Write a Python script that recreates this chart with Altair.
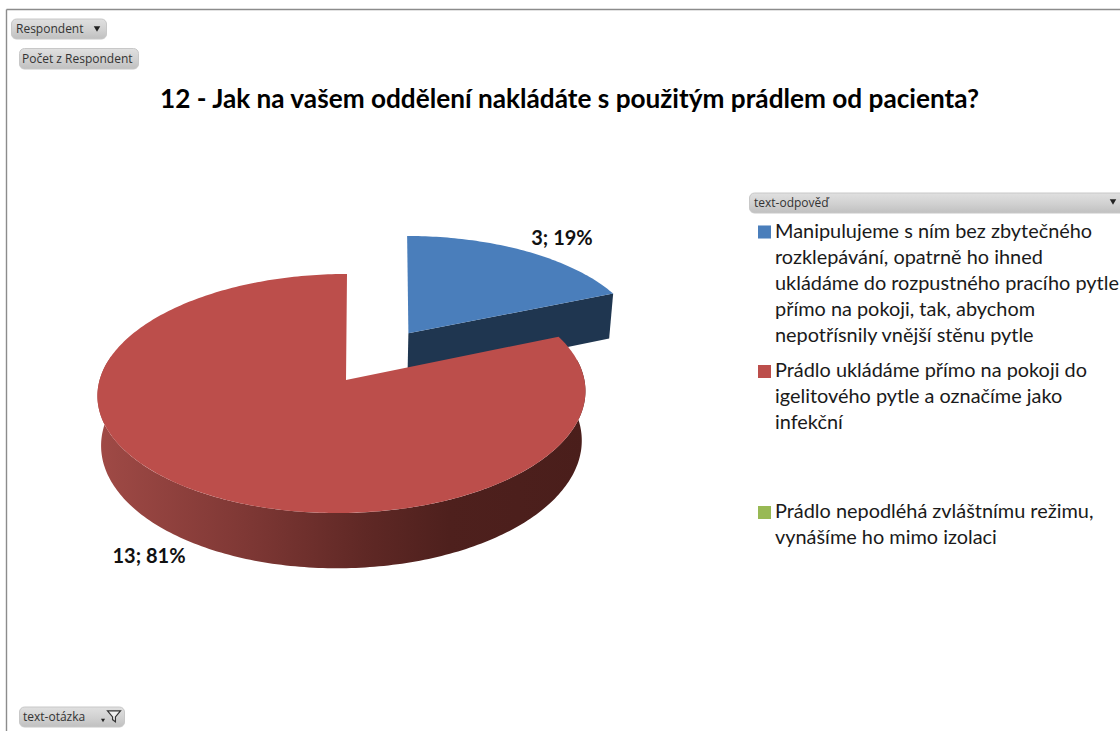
import math
import altair as alt

# Survey answers
counts = [3, 13]
category_lines = [
    ["Manipulujeme s ním bez zbytečného", "rozklepávání, opatrně ho ihned",
     "ukládáme do rozpustného pracího pytle", "přímo na pokoji, tak, abychom",
     "nepotřísnily vnější stěnu pytle"],
    ["Prádlo ukládáme přímo na pokoji do", "igelitového pytle a označíme jako", "infekční"],
    ["Prádlo nepodléhá zvláštnímu režimu,", "vynášíme ho mimo izolaci"],
]
title_text = "12 - Jak na vašem oddělení nakládáte s použitým prádlem od pacienta?"

BLUE, RED, GREEN = "#4a7ebb", "#bc4e4b", "#98b954"
FONT = "Lato"
W, H = 1120, 731

# Pie geometry: a circle of radius 1 on the ground plane seen in perspective
X0, Y0 = 342, 380
RX, RY, PERSP = 242.4, 118.0, 0.113
SHEAR = 5.0
DEPTH, BOTTOM_SHRINK = 49.0, 0.985
EXPLODE = 0.5
RED_APEX_NUDGE = 4.0


def project(gx, gz, drop=False):
    s = 1 / (1 + PERSP * gz)
    x = RX * s * gx
    y = Y0 - RY * s * gz
    if drop:
        return [X0 + SHEAR * gz + BOTTOM_SHRINK * x, y + DEPTH * s]
    return [X0 + SHEAR * gz + x, y]


def rim(a0, a1, off=(0.0, 0.0), drop=False, step=1.0):
    n = max(2, int(abs(a1 - a0) / step))
    pts = []
    for i in range(n + 1):
        a = math.radians(a0 + (a1 - a0) * i / n)
        pts.append(project(off[0] + math.sin(a), off[1] + math.cos(a), drop))
    return pts


def polygon(pts):
    return {"type": "Feature", "properties": {},
            "geometry": {"type": "Polygon", "coordinates": [pts + [pts[0]]]}}


total = sum(counts)
blue_end = 360 * counts[0] / total
mid = math.radians(blue_end / 2)
off = (EXPLODE * math.sin(mid), EXPLODE * math.cos(mid))

blue_top = [project(*off)] + rim(0, blue_end, off)
edge = math.radians(blue_end)
blue_tip = (off[0] + math.sin(edge), off[1] + math.cos(edge))
blue_cut = [project(*off), project(*blue_tip), project(*blue_tip, True), project(*off, True)]
red_apex = project(0, 0)
red_apex[0] += RED_APEX_NUDGE
red_top = [red_apex] + rim(blue_end, 360)
red_wall = rim(80, 282) + rim(282, 80, drop=True)


def shape(pts, fill, **kw):
    return alt.Chart(alt.Data(values=[polygon(pts)])).mark_geoshape(
        fill=fill, strokeWidth=0, **kw).project(type="identity")


def grad(stops, vertical=False):
    return alt.Gradient(
        gradient="linear",
        stops=[alt.GradientStop(offset=o, color=c) for o, c in stops],
        x1=0, x2=0 if vertical else 1, y1=0, y2=1 if vertical else 0,
    )


def label(text, x, y, size, weight="normal", align="left", color="#111111", font=FONT):
    return alt.Chart(alt.Data(values=[{"t": text}])).mark_text(
        font=font, fontSize=size, fontWeight=weight, align=align, baseline="middle", color=color
    ).encode(x=alt.value(x), y=alt.value(y), text="t:N")


def button(x0, y0, x1, y1):
    return alt.Chart(alt.Data(values=[{"b": 1}])).mark_rect(
        cornerRadius=5, stroke="#c8c8c8", strokeWidth=1,
        fill=grad([(0, "#e0e0e0"), (0.5, "#d2d2d2"), (1, "#c0c0c0")], vertical=True),
    ).encode(x=alt.value(x0), x2=alt.value(x1), y=alt.value(y0), y2=alt.value(y1))


def glyph(x, y, shape_name, size, fill="#222222", stroke=None):
    kw = {"stroke": stroke, "strokeWidth": 1.2} if stroke else {"strokeWidth": 0}
    return alt.Chart(alt.Data(values=[{"g": 1}])).mark_point(
        shape=shape_name, size=size, filled=True, fill=fill, opacity=1, **kw
    ).encode(x=alt.value(x), y=alt.value(y))


def frame_line(x0, y0, x1, y1):
    return alt.Chart(alt.Data(values=[{"l": 1}])).mark_rule(color="#8c8c8c", strokeWidth=1.4).encode(
        x=alt.value(x0), x2=alt.value(x1), y=alt.value(y0), y2=alt.value(y1))


layers = [
    # Invisible canvas outline so the identity projection keeps pixel units
    shape([[0, 0], [W, 0], [W, H], [0, H]], "transparent"),
    frame_line(6.5, 9.5, W, 9.5),
    frame_line(6.5, 9.5, 6.5, H),
    # Exploded blue slice, then the red slice in front of it
    shape(blue_cut, "#1f3650"),
    shape(blue_top, BLUE),
    shape(red_wall, grad([(0, "#a04a46"), (0.3, "#7f3835"), (0.55, "#5f2825"),
                          (0.72, "#4e201d"), (1, "#4a1e1b")])),
    shape(red_top, RED),
    label(f"{counts[0]}; {round(100 * counts[0] / total)}%", 562, 239, 20, "bold", "center"),
    label(f"{counts[1]}; {round(100 * counts[1] / total)}%", 149, 557, 20, "bold", "center"),
    label(title_text, 569.5, 100, 26.2, "bold", "center", "#000000"),
    # Pivot field buttons
    button(11.5, 19, 106.5, 39),
    label("Respondent", 16, 29, 12, color="#333333", font="Open Sans"),
    glyph(97, 29, "triangle-down", 42),
    button(19.5, 48.5, 138.5, 69),
    label("Počet z Respondent", 22, 59, 12, color="#333333", font="Open Sans"),
    button(749.5, 193, 1125, 213),
    label("text-odpověď", 754, 203, 12, color="#333333", font="Open Sans"),
    glyph(1113, 202, "triangle-down", 42),
    button(19.5, 707, 124.5, 727),
    label("text-otázka", 23, 717, 12, color="#333333", font="Open Sans"),
    glyph(103, 720.5, "triangle-down", 16),
    glyph(114, 716, "M-1,-0.8L1,-0.8L0.22,0.15L0.22,0.9L-0.22,0.55L-0.22,0.15Z", 170,
          fill="#efefef", stroke="#333333"),
]

# Legend: one coloured square per category, followed by its wrapped lines
legend_tops = [231.5, 371, 512]
line_gaps = 26.2
for colour, top, lines in zip([BLUE, RED, GREEN], legend_tops, category_lines):
    layers.append(glyph(764.5, top + 0.5, "square", 170, fill=colour))
    for i, line in enumerate(lines):
        layers.append(label(line, 775, top + i * line_gaps, 19.9, color="#1a1a1a"))

chart = alt.layer(*layers).properties(
    width=W, height=H, padding=0, autosize=alt.AutoSizeParams(type="none"), background="white"
).configure_view(stroke=None)

chart.save("out.html", embed_options={"renderer": "svg", "actions": False})
